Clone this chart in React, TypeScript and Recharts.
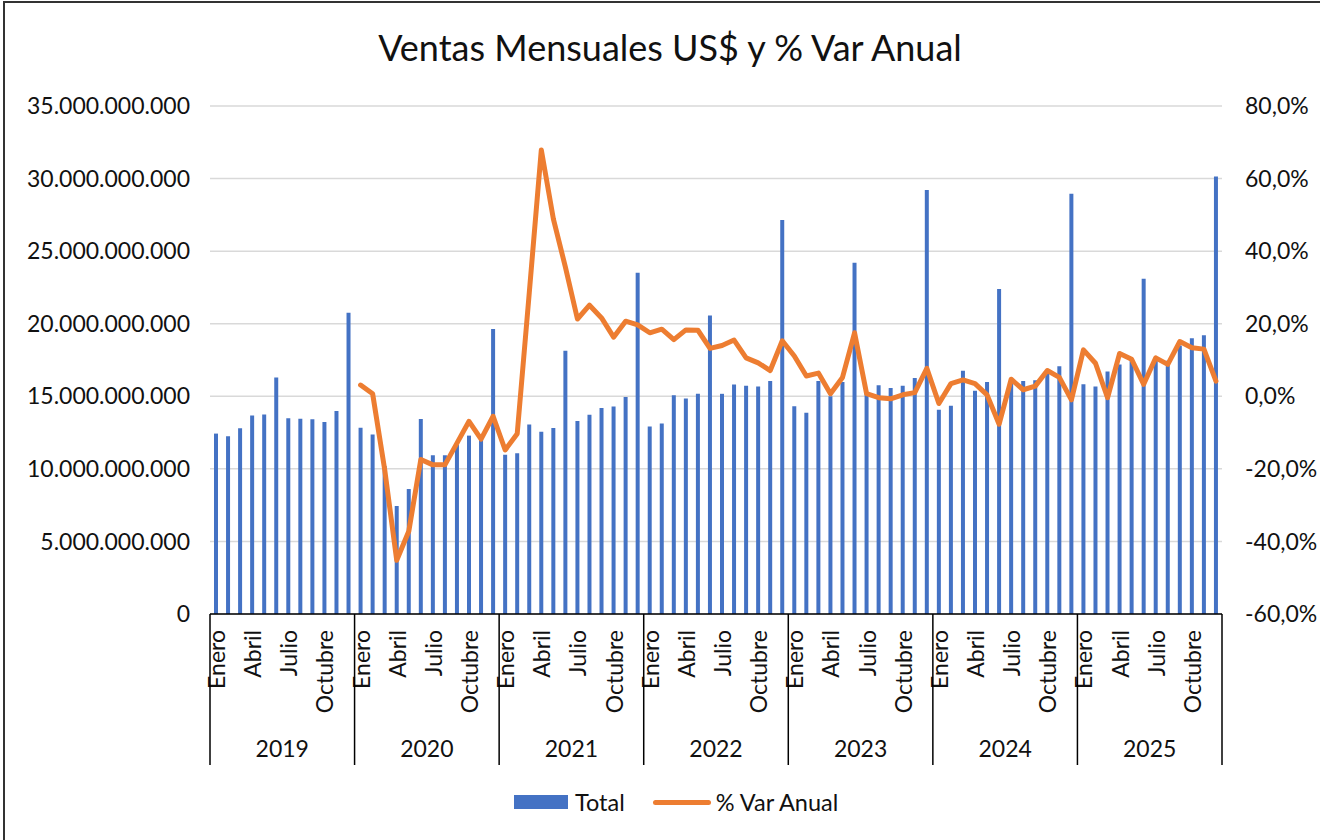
import React from "react";
import { ComposedChart, Bar, Line, XAxis, YAxis, CartesianGrid } from "recharts";

const YEARS = ["2019", "2020", "2021", "2022", "2023", "2024", "2025"];
const MONTHS = ["Enero", "Febrero", "Marzo", "Abril", "Mayo", "Junio", "Julio", "Agosto", "Septiembre", "Octubre", "Noviembre", "Diciembre"];

// Ventas mensuales (US$)
const TOTAL_2019 = [12.43e9, 12.24e9, 12.79e9, 13.67e9, 13.74e9, 16.29e9, 13.48e9, 13.46e9, 13.41e9, 13.22e9, 13.98e9, 20.76e9];
const TOTAL_2020 = [12.84e9, 12.36e9, 10.2e9, 7.44e9, 8.61e9, 13.43e9, 10.94e9, 10.94e9, 11.65e9, 12.29e9, 12.3e9, 19.64e9];
const TOTAL_2021 = [10.98e9, 11.08e9, 13.05e9, 12.55e9, 12.82e9, 18.14e9, 13.29e9, 13.72e9, 14.19e9, 14.29e9, 14.95e9, 23.51e9];
const TOTAL_2022 = [12.91e9, 13.12e9, 15.07e9, 14.84e9, 15.17e9, 20.57e9, 15.17e9, 15.81e9, 15.72e9, 15.67e9, 16.05e9, 27.15e9];
const TOTAL_2023 = [14.31e9, 13.86e9, 16.05e9, 15.0e9, 15.98e9, 24.2e9, 15.3e9, 15.76e9, 15.57e9, 15.72e9, 16.26e9, 29.22e9];
const TOTAL_2024 = [14.08e9, 14.34e9, 16.76e9, 15.38e9, 15.98e9, 22.4e9, 16.0e9, 16.05e9, 16.1e9, 16.7e9, 17.07e9, 28.96e9];
const TOTAL_2025 = [15.83e9, 15.67e9, 16.71e9, 17.19e9, 17.55e9, 23.09e9, 17.65e9, 17.45e9, 18.5e9, 19.0e9, 19.21e9, 30.15e9];

// % Var Anual (en %)
const VAR_2019: (number | null)[] = [null, null, null, null, null, null, null, null, null, null, null, null];
const VAR_2020 = [3.1, 0.7, -20.2, -45.2, -37.2, -17.4, -18.9, -18.9, -12.9, -6.9, -11.8, -5.5];
const VAR_2021 = [-14.8, -10.3, 28.5, 67.9, 48.9, 35.6, 21.3, 25.1, 21.6, 16.3, 20.7, 19.7];
const VAR_2022 = [17.5, 18.5, 15.6, 18.3, 18.2, 13.2, 14.0, 15.5, 10.6, 9.2, 7.1, 15.3];
const VAR_2023 = [11.1, 5.6, 6.4, 0.7, 5.2, 17.5, 0.7, -0.4, -0.7, 0.4, 1.0, 7.7];
const VAR_2024 = [-2.0, 3.5, 4.5, 3.5, 0.4, -7.7, 4.7, 1.8, 2.8, 7.1, 5.2, -1.0];
const VAR_2025 = [12.8, 9.1, -0.4, 11.8, 10.2, 3.3, 10.6, 8.8, 15.1, 13.4, 13.0, 4.2];

const LEFT_TICKS = [0, 5e9, 10e9, 15e9, 20e9, 25e9, 30e9, 35e9];
const RIGHT_TICKS = [-60, -40, -20, 0, 20, 40, 60, 80];

const TOTALS = [TOTAL_2019, TOTAL_2020, TOTAL_2021, TOTAL_2022, TOTAL_2023, TOTAL_2024, TOTAL_2025];
const VARS = [VAR_2019, VAR_2020, VAR_2021, VAR_2022, VAR_2023, VAR_2024, VAR_2025];

const data = YEARS.flatMap((y, yi) =>
  MONTHS.map((m, mi) => ({
    key: `${y}-${m}`,
    year: y,
    month: m,
    total: TOTALS[yi][mi],
    varAnual: VARS[yi][mi],
  }))
);

const W = 1320;
const H = 840;
const LEFT_W = 210;
const RIGHT_W = 98;
const TOP = 106;
const PLOT_W = W - LEFT_W - RIGHT_W;
const N = data.length;
const FONT = "Lato, 'Open Sans', sans-serif";
const TXT = "#111";
const FS = 23;

const fmtLeft = (v: number) =>
  String(Math.round(v)).replace(/\B(?=(\d{3})+(?!\d))/g, ".");
const fmtRight = (v: number) => v.toFixed(1).replace(".", ",") + "%";

const CategoryTick = (props: any) => {
  const { x, y, index } = props;
  const bw = PLOT_W / N;
  const d = data[index];
  if (!d) return null;
  const mi = MONTHS.indexOf(d.month);
  const els: React.ReactNode[] = [];
  if (mi % 3 === 0) {
    const ty = y + 16;
    els.push(
      <text
        key="m"
        x={x}
        y={ty}
        transform={`rotate(-90 ${x} ${ty})`}
        textAnchor="end"
        dominantBaseline="central"
        fill={TXT}
        fontSize={FS}
        fontFamily={FONT}
      >
        {d.month}
      </text>
    );
  }
  if (mi === 0) {
    const lx = x - bw / 2;
    els.push(<line key="s" x1={lx} x2={lx} y1={y} y2={y + 151} stroke="#000" strokeWidth={1.5} />);
    els.push(
      <text
        key="y"
        x={lx + 6 * bw}
        y={y + 134}
        textAnchor="middle"
        dominantBaseline="central"
        fill={TXT}
        fontSize={FS}
        fontFamily={FONT}
      >
        {d.year}
      </text>
    );
  }
  if (index === N - 1) {
    const rx = x + bw / 2;
    els.push(<line key="e" x1={rx} x2={rx} y1={y} y2={y + 151} stroke="#000" strokeWidth={1.5} />);
  }
  return <g>{els}</g>;
};

export default function App() {
  return (
    <div style={{ position: "fixed", left: 0, top: 0, width: W, height: H, background: "#fff", fontFamily: FONT, overflow: "hidden" }}>
      <div style={{ position: "absolute", left: 3, top: 1, width: W, height: H, borderTop: "2px solid #333", borderLeft: "2px solid #333" }} />
      <div style={{ position: "absolute", left: 0, width: 1340, top: 26, textAlign: "center", fontSize: 36, color: TXT, lineHeight: "42px" }}>
        Ventas Mensuales US$ y % Var Anual
      </div>
      <ComposedChart
        width={W}
        height={H}
        data={data}
        margin={{ top: TOP, right: 0, bottom: 76, left: 0 }}
        barCategoryGap={0}
      >
        <CartesianGrid yAxisId="left" vertical={false} stroke="#D9D9D9" strokeWidth={1.5} />
        <XAxis
          dataKey="key"
          interval={0}
          height={150}
          tickLine={false}
          tickSize={0}
          tickMargin={0}
          axisLine={{ stroke: "#000", strokeWidth: 1.5 }}
          tick={<CategoryTick />}
        />
        <YAxis
          yAxisId="left"
          orientation="left"
          width={LEFT_W}
          domain={[0, 35e9]}
          ticks={LEFT_TICKS}
          tickFormatter={fmtLeft}
          axisLine={false}
          tickLine={false}
          tickMargin={14}
          tick={{ fill: TXT, fontSize: FS, fontFamily: FONT }}
        />
        <YAxis
          yAxisId="right"
          orientation="right"
          width={RIGHT_W}
          domain={[-60, 80]}
          ticks={RIGHT_TICKS}
          tickFormatter={fmtRight}
          axisLine={false}
          tickLine={false}
          tickMargin={17}
          tick={{ fill: TXT, fontSize: FS, fontFamily: FONT }}
        />
        <Bar yAxisId="left" dataKey="total" fill="#4472C4" barSize={4} isAnimationActive={false} />
        <Line
          yAxisId="right"
          type="linear"
          dataKey="varAnual"
          stroke="#ED7D31"
          strokeWidth={5}
          strokeLinejoin="round"
          strokeLinecap="round"
          dot={false}
          activeDot={false}
          isAnimationActive={false}
        />
      </ComposedChart>
      <div style={{ position: "absolute", left: 514, top: 788, height: 28, display: "flex", alignItems: "center", fontSize: 23.5, color: TXT, whiteSpace: "nowrap" }}>
        <span style={{ display: "inline-block", width: 54, height: 14, background: "#4472C4", marginRight: 7 }} />
        <span>Total</span>
        <span style={{ display: "inline-block", width: 58, height: 5, borderRadius: 3, background: "#ED7D31", marginLeft: 28, marginRight: 5 }} />
        <span>% Var Anual</span>
      </div>
    </div>
  );
}
